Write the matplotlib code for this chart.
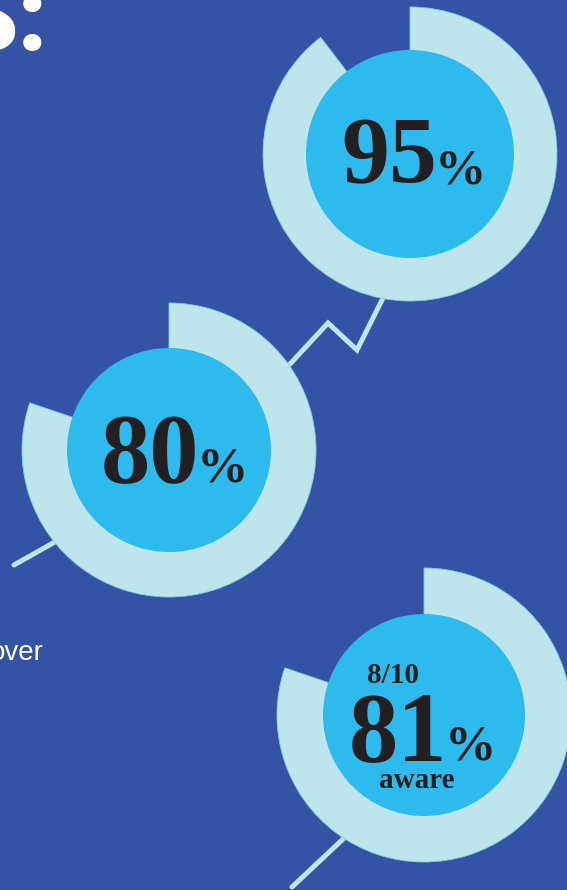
import matplotlib
matplotlib.use('Agg')
import matplotlib.pyplot as plt
from matplotlib.patches import Wedge, Circle

# ---- data ----
donut_values = ['95', '80', '81']          # big numbers
donut_fill = [0.896, 0.802, 0.802]         # share of ring drawn
donut_top = ['', '', '8/10']
donut_bottom = ['', '', 'aware']
trend_x = [14, 202, 290, 328, 357, 382, 432]
trend_y = [565, 459, 364, 323, 350, 300, 200]
tail_x = [292, 342, 395]
tail_y = [887, 840, 790]

# ---- layout / style ----
W, H = 567, 890
BG = '#3453A4'
RING = '#BEE5EC'
INNER = '#2DBAEC'
TXT = '#231F20'
centers = [(410, 154), (169, 450), (424, 715)]
r_out = [147, 147, 147]
r_in = [104, 102, 101]
group_cx = [414.5, 175.5, 423.5]
baseline = [183, 482, 760]
num_size = [69, 71, 71]
pct_size = 37

fig = plt.figure(figsize=(W / 100, H / 100), dpi=100)
fig.patch.set_facecolor(BG)
ax = fig.add_axes([0, 0, 1, 1])
ax.set_facecolor(BG)
ax.set_xlim(0, W)
ax.set_ylim(H, 0)
ax.axis('off')

# connecting lines (behind donuts)
ax.plot(trend_x, trend_y, color=RING, lw=3.6, solid_capstyle='round',
        solid_joinstyle='miter', zorder=1)
ax.plot(tail_x, tail_y, color=RING, lw=3.6, solid_capstyle='round', zorder=1)

fig.canvas.draw()
renderer = fig.canvas.get_renderer()

def width_px(t):
    bb = t.get_window_extent(renderer)
    return bb.width

for i, (c, f) in enumerate(zip(centers, donut_fill)):
    ax.add_patch(Wedge(c, r_out[i], -90, -90 + 360 * f, facecolor=RING,
                       edgecolor='#7FCDE8', lw=0.6, zorder=2))
    ax.add_patch(Circle(c, r_in[i], facecolor=INNER, edgecolor='none', zorder=3))
    tn = ax.text(0, baseline[i], donut_values[i], ha='left', va='baseline',
                 fontsize=num_size[i], fontfamily='Liberation Serif', fontweight='bold',
                 color=TXT, zorder=4)
    tp = ax.text(0, baseline[i], '%', ha='left', va='baseline',
                 fontsize=pct_size, fontfamily='Liberation Serif', fontweight='bold',
                 color=TXT, zorder=4)
    wn = width_px(tn)
    wp = width_px(tp)
    left = group_cx[i] - (wn + wp) / 2
    tn.set_x(left)
    tp.set_x(left + wn - 2)

# extra labels on third donut
ax.text(393, 683, donut_top[2], ha='center', va='baseline', fontsize=21,
        fontfamily='Liberation Serif', fontweight='bold', color=TXT, zorder=4)
ax.text(417, 788, donut_bottom[2], ha='center', va='baseline', fontsize=21,
        fontfamily='Liberation Serif', fontweight='bold', color=TXT, zorder=4)

# clipped heading and body text
ax.text(48, 50, 'S:', ha='right', va='baseline', fontsize=72,
        fontfamily='Roboto', fontweight='black', color='white', zorder=4)
ax.text(44, 660, 'over', ha='right', va='baseline', fontsize=20,
        fontfamily='Liberation Sans', color='white', zorder=4)

fig.savefig('out.png', dpi=100, facecolor=BG)
